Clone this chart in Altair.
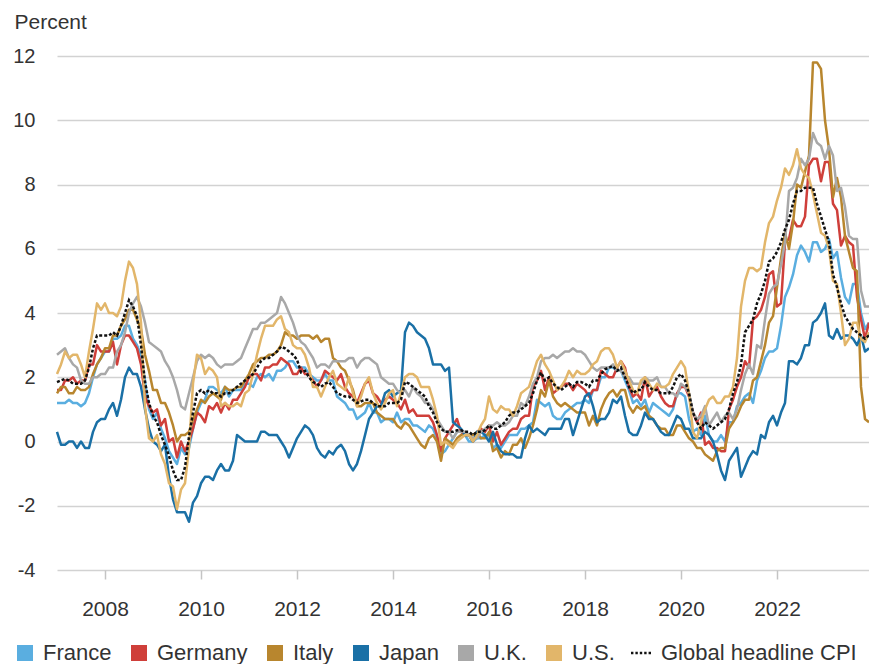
import altair as alt
import pandas as pd

series_names = ["France", "Germany", "Italy", "Japan", "U.K.", "U.S.", "Global headline CPI"]
series_colors = ["#5aaee0", "#cf3f3a", "#b8862e", "#1a70a6", "#a8a8a8", "#e2b66a", "#111111"]
start_year = 2007
x_ticks = [2008, 2010, 2012, 2014, 2016, 2018, 2020, 2022]
y_ticks = [-4, -2, 0, 2, 4, 6, 8, 10, 12]

# Monthly year-over-year inflation, Jan 2007 - Dec 2023 (percent)
france = [
    1.2, 1.2, 1.2, 1.3, 1.2, 1.2, 1.1, 1.2, 1.5, 2.0, 2.4, 2.6,
    2.8, 2.8, 3.2, 3.2, 3.3, 3.6, 3.6, 3.2, 3.0, 2.7, 1.9, 1.0,
    0.7, 0.9, 0.4, 0.1, -0.3, -0.5, -0.7, -0.2, -0.4, -0.2, 0.4, 0.9,
    1.2, 1.3, 1.7, 1.7, 1.6, 1.5, 1.7, 1.4, 1.6, 1.6, 1.6, 1.8,
    1.8, 1.7, 2.0, 2.1, 2.0, 2.1, 1.9, 2.2, 2.2, 2.3, 2.5, 2.5,
    2.3, 2.3, 2.3, 2.1, 2.0, 1.9, 1.9, 2.1, 1.9, 1.9, 1.4, 1.3,
    1.2, 1.0, 1.0, 0.7, 0.8, 0.9, 1.2, 0.9, 0.9, 0.6, 0.7, 0.7,
    0.6, 0.9, 0.6, 0.7, 0.7, 0.5, 0.5, 0.4, 0.3, 0.5, 0.4, 0.1,
    -0.4, -0.3, -0.1, 0.1, 0.3, 0.3, 0.2, 0.0, 0.0, 0.1, 0.1, 0.2,
    0.2, -0.2, -0.1, -0.2, 0.0, 0.2, 0.2, 0.2, 0.4, 0.4, 0.5, 0.6,
    1.3, 1.2, 1.1, 1.2, 0.8, 0.7, 0.7, 0.9, 1.0, 1.1, 1.2, 1.2,
    1.3, 1.2, 1.6, 1.6, 2.0, 2.0, 2.3, 2.3, 2.2, 2.2, 1.9, 1.6,
    1.2, 1.3, 1.1, 1.3, 0.9, 1.2, 1.1, 1.0, 0.9, 0.8, 1.0, 1.5,
    1.5, 1.4, 0.7, 0.3, 0.4, 0.2, 0.8, 0.2, 0.0, 0.0, 0.2, 0.0,
    0.6, 0.6, 1.1, 1.2, 1.4, 1.5, 1.2, 1.9, 2.2, 2.6, 2.8, 2.8,
    2.9, 3.6, 4.5, 4.8, 5.2, 5.8, 6.1, 5.9, 5.6, 6.2, 6.2, 5.9,
    6.0, 6.3, 5.7, 5.9, 5.1, 4.5, 4.3, 4.9, 4.9, 4.0, 3.5, 3.7,
]
germany = [
    1.6, 1.6, 1.9, 1.9, 2.0, 1.8, 1.9, 1.9, 2.4, 2.4, 3.0, 2.8,
    2.8, 2.8, 3.1, 2.4, 3.0, 3.3, 3.3, 3.1, 2.9, 2.4, 1.4, 1.1,
    0.9, 1.0, 0.5, 0.7, 0.0, 0.1, -0.5, 0.0, -0.3, 0.0, 0.4, 0.9,
    0.8, 0.6, 1.1, 1.0, 1.2, 0.9, 1.2, 1.0, 1.3, 1.3, 1.5, 1.7,
    2.0, 2.1, 2.1, 1.9, 2.3, 2.3, 2.4, 2.4, 2.6, 2.5, 2.4, 2.1,
    2.1, 2.3, 2.1, 2.1, 1.9, 1.7, 1.9, 2.2, 2.1, 2.0, 1.9, 2.1,
    1.7, 1.5, 1.4, 1.2, 1.5, 1.8, 1.9, 1.5, 1.4, 1.2, 1.3, 1.4,
    1.3, 1.2, 1.0, 1.3, 0.9, 1.0, 0.8, 0.8, 0.8, 0.8, 0.6, 0.2,
    -0.3, 0.1, 0.3, 0.5, 0.7, 0.3, 0.2, 0.2, 0.0, 0.3, 0.4, 0.3,
    0.5, 0.0, 0.3, -0.1, 0.1, 0.3, 0.4, 0.4, 0.7, 0.8, 0.8, 1.7,
    1.9, 2.2, 1.6, 2.0, 1.5, 1.6, 1.7, 1.8, 1.8, 1.6, 1.8, 1.7,
    1.6, 1.4, 1.6, 1.6, 2.2, 2.1, 2.0, 2.0, 2.3, 2.5, 2.3, 1.7,
    1.4, 1.5, 1.3, 2.0, 1.4, 1.6, 1.7, 1.4, 1.2, 1.1, 1.1, 1.5,
    1.7, 1.7, 1.4, 0.9, 0.6, 0.9, -0.1, 0.0, -0.2, -0.2, -0.3, -0.3,
    1.0, 1.3, 1.7, 2.0, 2.5, 2.3, 3.8, 3.9, 4.1, 4.5, 5.2, 5.3,
    4.2, 4.3, 6.2, 6.3, 6.9, 6.7, 6.7, 7.0, 8.6, 8.8, 8.8, 8.1,
    8.7, 8.7, 7.4, 7.2, 6.1, 6.4, 6.2, 6.1, 4.5, 3.8, 3.2, 3.7,
]
italy = [
    1.5, 1.7, 1.7, 1.5, 1.5, 1.7, 1.6, 1.6, 1.7, 2.1, 2.4, 2.6,
    2.9, 2.9, 3.3, 3.3, 3.6, 3.8, 4.1, 4.1, 3.8, 3.5, 2.7, 2.2,
    1.6, 1.6, 1.2, 1.2, 0.9, 0.5, 0.0, 0.2, 0.2, 0.3, 0.7, 1.0,
    1.3, 1.2, 1.4, 1.5, 1.4, 1.3, 1.7, 1.6, 1.6, 1.7, 1.7, 1.9,
    2.1, 2.4, 2.5, 2.6, 2.6, 2.7, 2.7, 2.8, 3.0, 3.4, 3.3, 3.3,
    3.2, 3.3, 3.3, 3.3, 3.2, 3.3, 3.1, 3.2, 3.2, 2.6, 2.5, 2.3,
    2.2, 1.9, 1.6, 1.1, 1.1, 1.2, 1.2, 1.2, 0.9, 0.8, 0.7, 0.7,
    0.7, 0.5, 0.4, 0.6, 0.5, 0.3, 0.1, -0.1, -0.2, 0.1, 0.2, 0.0,
    -0.6, 0.1, 0.0, -0.1, 0.1, 0.2, 0.2, 0.2, 0.2, 0.3, 0.1, 0.1,
    0.3, -0.3, -0.2, -0.5, -0.3, -0.4, -0.1, -0.1, 0.1, -0.2, 0.1, 0.5,
    1.0, 1.6, 1.4, 1.9, 1.4, 1.2, 1.1, 1.2, 1.1, 1.0, 0.9, 0.9,
    0.9, 0.5, 0.8, 0.5, 1.0, 1.3, 1.5, 1.6, 1.4, 1.6, 1.6, 1.1,
    0.9, 1.1, 1.0, 1.1, 0.8, 0.7, 0.5, 0.4, 0.4, 0.2, 0.2, 0.5,
    0.5, 0.3, 0.1, 0.0, -0.2, -0.2, -0.4, -0.5, -0.6, -0.3, -0.2, -0.2,
    0.4, 0.6, 0.8, 1.1, 1.3, 1.3, 1.9, 2.0, 2.5, 3.0, 3.7, 3.9,
    4.8, 5.7, 6.5, 6.0, 6.8, 8.0, 7.9, 8.4, 8.9, 11.8, 11.8, 11.6,
    10.0, 9.1, 7.6, 8.2, 7.6, 6.4, 5.9, 5.4, 5.3, 1.7, 0.7, 0.6,
]
japan = [
    0.3, -0.1, -0.1, 0.0, 0.0, -0.2, 0.0, -0.2, -0.2, 0.3, 0.6, 0.7,
    0.7, 1.0, 1.2, 0.8, 1.3, 2.0, 2.3, 2.1, 2.1, 1.7, 1.0, 0.4,
    0.0, -0.1, -0.3, -0.1, -1.1, -1.8, -2.2, -2.2, -2.2, -2.5, -1.9, -1.7,
    -1.3, -1.1, -1.1, -1.2, -0.9, -0.7, -0.9, -0.9, -0.6, 0.2, 0.1, 0.0,
    0.0, 0.0, 0.0, 0.3, 0.3, 0.2, 0.2, 0.2, 0.0, -0.2, -0.5, -0.2,
    0.1, 0.3, 0.5, 0.4, 0.2, -0.2, -0.4, -0.5, -0.3, -0.4, -0.2, -0.1,
    -0.3, -0.7, -0.9, -0.7, -0.3, 0.2, 0.7, 0.9, 1.1, 1.1, 1.5, 1.6,
    1.4, 1.5, 1.6, 3.4, 3.7, 3.6, 3.4, 3.3, 3.2, 2.9, 2.4, 2.4,
    2.4, 2.2, 2.3, 0.6, 0.5, 0.4, 0.2, 0.2, 0.0, 0.3, 0.3, 0.2,
    0.0, 0.3, -0.1, -0.3, -0.4, -0.4, -0.4, -0.5, -0.5, 0.1, 0.5, 0.3,
    0.4, 0.3, 0.2, 0.4, 0.4, 0.4, 0.4, 0.7, 0.7, 0.2, 0.6, 1.0,
    1.4, 1.5, 1.1, 0.6, 0.7, 0.7, 0.9, 1.3, 1.2, 1.4, 0.8, 0.3,
    0.2, 0.2, 0.5, 0.9, 0.7, 0.7, 0.5, 0.3, 0.2, 0.2, 0.5, 0.8,
    0.7, 0.4, 0.4, 0.1, 0.1, 0.1, 0.3, 0.2, 0.0, -0.4, -0.9, -1.2,
    -0.6, -0.4, -0.2, -1.1, -0.8, -0.5, -0.3, -0.4, 0.2, 0.1, 0.6, 0.8,
    0.5, 0.9, 1.2, 2.5, 2.5, 2.4, 2.6, 3.0, 3.0, 3.7, 3.8, 4.0,
    4.3, 3.3, 3.2, 3.5, 3.2, 3.3, 3.3, 3.2, 3.0, 3.3, 2.8, 2.9,
]
uk = [
    2.7, 2.8, 2.9, 2.6, 2.4, 2.3, 1.9, 1.8, 1.8, 2.0, 2.0, 2.1,
    2.1, 2.3, 2.3, 2.8, 3.0, 3.4, 4.0, 4.3, 4.5, 4.2, 3.7, 3.1,
    3.0, 2.9, 2.8, 2.5, 2.3, 2.0, 1.6, 1.1, 1.0, 1.5, 2.0, 2.5,
    2.7, 2.6, 2.7, 2.6, 2.4, 2.3, 2.4, 2.4, 2.4, 2.5, 2.6, 2.9,
    3.2, 3.5, 3.5, 3.7, 3.7, 3.8, 3.9, 4.0, 4.5, 4.3, 4.0, 3.7,
    3.3, 3.1, 3.0, 2.8, 2.6, 2.3, 2.4, 2.4, 2.3, 2.5, 2.5, 2.5,
    2.5, 2.6, 2.6, 2.3, 2.5, 2.6, 2.6, 2.5, 2.4, 2.0, 1.9, 1.8,
    1.8, 1.6, 1.5, 1.6, 1.4, 1.7, 1.5, 1.4, 1.2, 1.2, 1.0, 0.7,
    0.5, 0.3, 0.3, 0.1, 0.3, 0.3, 0.3, 0.2, 0.1, 0.1, 0.3, 0.4,
    0.5, 0.5, 0.6, 0.5, 0.5, 0.6, 0.8, 0.8, 1.2, 1.1, 1.4, 1.8,
    2.0, 2.5, 2.6, 2.6, 2.7, 2.6, 2.7, 2.8, 2.8, 2.9, 2.8, 2.8,
    2.7, 2.5, 2.3, 2.2, 2.3, 2.3, 2.3, 2.4, 2.2, 2.2, 2.0, 2.0,
    1.8, 1.8, 1.8, 2.0, 1.9, 1.9, 2.0, 1.7, 1.7, 1.5, 1.5, 1.4,
    1.8, 1.7, 1.5, 0.9, 0.7, 0.8, 1.1, 0.5, 0.7, 0.9, 0.6, 0.8,
    0.9, 0.7, 1.0, 1.6, 2.1, 2.4, 2.1, 3.0, 2.9, 3.8, 4.6, 4.8,
    4.9, 5.5, 6.2, 7.8, 7.9, 8.2, 8.8, 8.6, 8.8, 9.6, 9.3, 9.2,
    8.8, 9.2, 8.9, 7.8, 7.9, 7.3, 6.4, 6.3, 6.3, 4.7, 4.2, 4.2,
]
us = [
    2.1, 2.4, 2.8, 2.6, 2.7, 2.7, 2.4, 2.0, 2.8, 3.5, 4.3, 4.1,
    4.3, 4.0, 4.0, 3.9, 4.2, 5.0, 5.6, 5.4, 4.9, 3.7, 1.1, 0.1,
    0.0, 0.2, -0.4, -0.7, -1.3, -1.4, -2.1, -1.5, -1.3, -0.2, 1.8, 2.7,
    2.6, 2.1, 2.3, 2.2, 2.0, 1.1, 1.2, 1.1, 1.1, 1.2, 1.1, 1.5,
    1.6, 2.1, 2.7, 3.2, 3.6, 3.6, 3.6, 3.8, 3.9, 3.5, 3.4, 3.0,
    2.9, 2.9, 2.7, 2.3, 1.7, 1.7, 1.4, 1.7, 2.0, 2.2, 1.8, 1.7,
    1.6, 2.0, 1.5, 1.1, 1.4, 1.8, 2.0, 1.5, 1.2, 1.0, 1.2, 1.5,
    1.6, 1.1, 1.5, 2.0, 2.1, 2.1, 2.0, 1.7, 1.7, 1.7, 1.3, 0.8,
    -0.1, 0.0, -0.1, -0.2, 0.0, 0.1, 0.2, 0.2, 0.0, 0.2, 0.5, 0.7,
    1.4, 1.0, 0.9, 1.1, 1.0, 1.0, 0.8, 1.1, 1.5, 1.6, 1.7, 2.1,
    2.5, 2.7, 2.4, 2.2, 1.9, 1.6, 1.7, 1.9, 2.2, 2.0, 2.2, 2.1,
    2.1, 2.2, 2.4, 2.5, 2.8, 2.9, 2.9, 2.7, 2.3, 2.5, 2.2, 1.9,
    1.6, 1.5, 1.9, 2.0, 1.8, 1.6, 1.8, 1.7, 1.7, 1.8, 2.1, 2.3,
    2.5, 2.3, 1.5, 0.3, 0.1, 0.6, 1.0, 1.3, 1.4, 1.2, 1.2, 1.4,
    1.4, 1.7, 2.6, 4.2, 5.0, 5.4, 5.4, 5.3, 5.4, 6.2, 6.8, 7.0,
    7.5, 7.9, 8.5, 8.3, 8.6, 9.1, 8.5, 8.3, 8.2, 7.7, 7.1, 6.5,
    6.4, 6.0, 5.0, 4.9, 4.0, 3.0, 3.2, 3.7, 3.7, 3.2, 3.1, 3.4,
]
global_cpi = [
    1.85, 1.9, 1.95, 1.9, 1.8, 1.8, 1.8, 1.9, 2.3, 2.9, 3.3, 3.3,
    3.3, 3.3, 3.4, 3.3, 3.6, 4.0, 4.4, 4.2, 3.9, 3.0, 1.85, 1.2,
    0.8, 0.6, 0.2, -0.1, -0.45, -0.9, -1.2, -1.2, -0.8, 0.15, 0.9, 1.5,
    1.6, 1.5, 1.6, 1.5, 1.5, 1.4, 1.5, 1.5, 1.6, 1.7, 1.8, 1.9,
    2.0, 2.1, 2.3, 2.5, 2.6, 2.6, 2.7, 2.8, 2.95, 2.9, 2.8, 2.7,
    2.55, 2.15, 2.2, 2.0, 1.85, 1.8, 1.7, 1.8, 1.85, 1.7, 1.5, 1.45,
    1.4, 1.4, 1.3, 1.2, 1.25, 1.3, 1.3, 1.2, 1.1, 1.1, 1.1, 1.2,
    1.2, 1.2, 1.3, 1.85, 1.8, 1.7, 1.6, 1.5, 1.4, 1.1, 0.9, 0.6,
    0.4, 0.3, 0.3, 0.3, 0.35, 0.35, 0.3, 0.3, 0.2, 0.3, 0.3, 0.35,
    0.5, 0.4, 0.4, 0.5, 0.6, 0.8, 0.9, 0.9, 1.0, 1.1, 1.2, 1.5,
    1.9, 2.15, 1.9, 2.0, 1.8, 1.7, 1.6, 1.7, 1.8, 1.7, 1.85, 1.85,
    1.8, 1.7, 1.9, 1.9, 2.1, 2.25, 2.3, 2.35, 2.2, 2.3, 2.0, 1.7,
    1.5, 1.6, 1.6, 1.85, 1.7, 1.6, 1.6, 1.5, 1.5, 1.5, 1.7, 2.0,
    2.1, 1.9, 1.5, 0.9, 0.6, 0.4, 0.6, 0.5, 0.4, 0.5, 0.6, 0.7,
    1.0, 1.5, 1.85, 2.4, 3.4, 3.6, 3.8, 4.3, 4.6, 5.0, 5.6, 5.7,
    5.9, 6.2, 6.6, 6.9, 7.4, 7.8, 7.8, 7.9, 7.9, 7.9, 7.4, 7.0,
    6.6, 6.2, 5.2, 4.8, 4.3, 3.9, 3.7, 3.5, 3.4, 3.3, 3.2, 3.3,
]

values_by_series = {
    "France": france, "Germany": germany, "Italy": italy, "Japan": japan,
    "U.K.": uk, "U.S.": us, "Global headline CPI": global_cpi,
}

rows = []
for name, vals in values_by_series.items():
    for i, v in enumerate(vals):
        rows.append({"series": name, "t": start_year + i / 12.0, "value": v})
df = pd.DataFrame(rows)
x_end = start_year + (len(france) - 1) / 12.0

FONT = "Liberation Sans"
TEXT = "#333333"

x_enc = alt.X(
    "t:Q",
    scale=alt.Scale(domain=[start_year, x_end], nice=False, zero=False),
    axis=alt.Axis(
        values=x_ticks, format="d", grid=False, domain=False,
        tickColor="#c4c4c4", tickSize=9, tickWidth=1.5,
        labelPadding=19, labelFontSize=21, labelColor=TEXT, labelFont=FONT,
        title=None,
    ),
)
y_enc = alt.Y(
    "value:Q",
    scale=alt.Scale(domain=[-4, 12], nice=False, zero=False),
    axis=alt.Axis(
        values=y_ticks, domain=False, ticks=False, labelPadding=22,
        labelFontSize=20, labelColor=TEXT, labelFont=FONT,
        labelExpr="datum.value < 0 ? '-' + abs(datum.value) : '' + datum.value",
        gridColor="#d2d2d2", gridWidth=1.5,
        title="Percent", titleAngle=0, titleX=-43, titleY=-28,
        titleAlign="left", titleBaseline="alphabetic", titleFontSize=21,
        titleFontWeight="normal", titleColor=TEXT, titleFont=FONT,
    ),
)

countries = (
    alt.Chart(df)
    .transform_filter("datum.series != 'Global headline CPI'")
    .mark_line(strokeWidth=2.5, strokeJoin="round")
    .encode(
        x=x_enc, y=y_enc,
        stroke=alt.Stroke(
            "series:N",
            scale=alt.Scale(domain=series_names[:6], range=series_colors[:6]),
            legend=None,
        ),
    )
)

global_line = (
    alt.Chart(df)
    .transform_filter("datum.series == 'Global headline CPI'")
    .mark_line(color="#111111", strokeWidth=2.5, strokeDash=[3, 2])
    .encode(x=x_enc, y=y_enc)
)

dotted_symbol = (
    "M-1.5,-0.16H-1.2V0.16H-1.5Z M-0.95,-0.16H-0.65V0.16H-0.95Z "
    "M-0.4,-0.16H-0.1V0.16H-0.4Z M0.15,-0.16H0.45V0.16H0.15Z "
    "M0.7,-0.16H1.0V0.16H0.7Z"
)
shape_range = ["square"] * 6 + [dotted_symbol]

legend_cfg = alt.Legend(
    title=None, orient="none", legendX=-43, legendY=586,
    direction="horizontal", symbolSize=256, symbolStrokeWidth=0,
    labelFontSize=22, labelFont=FONT, labelColor=TEXT, labelOffset=7,
    labelLimit=400, columnPadding=16,
)

legend_layer = (
    alt.Chart(df)
    .transform_filter("false")
    .mark_point(filled=True, opacity=1)
    .encode(
        x=x_enc, y=y_enc,
        color=alt.Color("series:N", scale=alt.Scale(domain=series_names, range=series_colors), legend=legend_cfg),
        shape=alt.Shape("series:N", scale=alt.Scale(domain=series_names, range=shape_range), legend=legend_cfg),
    )
)

chart = (
    alt.layer(countries, global_line, legend_layer)
    .properties(
        width=812, height=514,
        autosize=alt.AutoSizeParams(type="none"),
        padding={"left": 49, "top": 48, "right": 0, "bottom": 94},
    )
    .configure(font=FONT)
    .configure_view(stroke=None)
)

chart.save("out.html", embed_options={"renderer": "svg", "actions": False})
